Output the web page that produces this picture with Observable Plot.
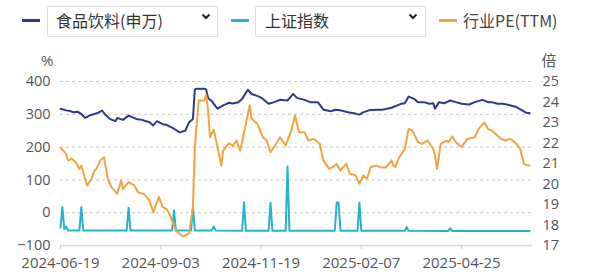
<!DOCTYPE html>
<html><head><meta charset="utf-8">
<script src="https://cdn.jsdelivr.net/npm/d3@7"></script>
<script src="https://cdn.jsdelivr.net/npm/@observablehq/plot@0.6"></script>
<style>
body{margin:0;background:#fff;font-family:"Open Sans","Noto Sans CJK SC",sans-serif;}
#wrap{position:relative;width:600px;height:279px;overflow:hidden;background:#fff}
#legend{position:relative;height:40px;width:600px}
.dash{position:absolute;top:19px;height:3px;width:18px}
.box{position:absolute;top:6px;height:29px;border:1px solid #ddd;border-radius:2px;background:#fff}
.lt{position:absolute;line-height:29px;font-size:16px;color:#333;white-space:nowrap;font-family:"Noto Sans CJK SC",sans-serif}
.chev{position:absolute;top:11px}
</style></head>
<body><div id="wrap">
<div id="legend"></div>
<div id="chart"></div>
</div>
<script>
// ---- data (trading-day index, value) ----
const xTickIdx = [0, 53, 106, 159, 212];
const xTickLabels = ["2024-06-19", "2024-09-03", "2024-11-19", "2025-02-07", "2025-04-25"];
const leftTicks = [-100, 0, 100, 200, 300, 400];
const rightTicks = [17, 18, 19, 20, 21, 22, 23, 24, 25];
const seriesNames = ["食品饮料(申万)", "上证指数", "行业PE(TTM)"];
const colors = ["#2b3a8e", "#27b3ca", "#f2a445"];

const foodIdx = [0,3,5,7,9,11,13,16,18,20,22,24,26,29,30,33,36,40,43,47,49,51,54,56,60,63,66,68,70,71,72,76,77,78,80,81,83,86,89,91,94,96,99,101,105,107,110,113,116,120,123,125,129,132,136,139,143,145,148,152,155,158,160,163,167,170,172,175,178,180,182,184,187,189,192,195,197,198,200,203,206,209,212,216,219,223,226,228,231,234,238,241,244,246,248];
const foodVal = [317,312,310,306,308,301,289,298,301,305,311,297,286,279,289,283,296,286,283,276,266,279,270,268,256,245,250,276,286,375,378,378,375,350,340,332,317,327,335,333,337,347,375,362,354,347,332,337,344,342,362,350,344,337,337,314,309,314,312,306,303,299,306,312,314,314,316,320,327,332,334,354,347,337,337,332,334,317,337,334,342,337,332,330,337,344,337,337,332,332,327,322,312,305,304];

const shIdx = [0,1,2,3,4,10,11,12,35,36,37,59,60,61,69,70,71,80,81,82,96,97,98,110,111,112,119,120,121,145,146,147,148,157,158,159,182,183,184,205,206,207,248];
const shVal = [-45,17,-50,-42,-54,-54,17,-54,-54,15,-54,-54,7,-54,-54,17,-54,-54,-42,-54,-55,32,-55,-55,30,-55,-55,141,-55,-55,31,31,-55,-55,30,-55,-55,-44,-55,-56,-47,-56,-56];

const peIdx = [0,3,4,6,8,10,11,14,16,18,19,21,23,25,27,30,32,33,36,39,41,44,47,49,52,54,56,58,61,63,65,68,70,71,73,76,77,78,79,81,83,85,86,89,91,93,95,98,100,101,104,107,109,111,114,116,119,122,124,126,129,131,134,137,139,142,144,146,148,151,153,156,158,160,162,164,167,169,172,175,176,177,179,182,184,186,189,191,194,197,198,199,201,204,205,207,209,212,215,219,221,224,226,228,231,233,235,238,241,243,245,247,248];
const peVal = [21.77,21.47,21.15,21.23,21.06,20.74,20.90,19.93,20.17,20.66,20.74,21.15,21.31,20.25,19.84,19.52,20.17,19.76,20.09,19.93,19.60,19.52,19.20,18.62,19.36,18.87,18.79,18.46,17.73,17.57,17.44,17.60,18.87,21.80,24.07,24.07,24.35,23.60,22.28,22.65,21.80,20.90,21.63,22.00,21.85,22.12,21.63,22.94,23.83,23.18,22.94,22.28,22.12,21.55,21.96,22.28,21.88,22.60,23.34,22.52,22.52,22.12,22.20,21.96,21.15,20.74,20.82,20.98,20.66,20.98,20.50,20.42,20.01,20.42,20.25,20.82,20.90,20.82,20.80,21.15,20.90,20.82,21.30,21.71,22.69,22.60,22.04,21.96,22.12,21.71,21.39,20.74,21.96,22.12,22.04,22.32,22.04,21.80,22.20,22.28,22.69,23.01,22.69,22.60,22.36,22.20,22.12,22.20,21.96,21.71,20.98,20.90,20.90];

// PE (right axis, 17..25) shares the pixel range of the left axis (-100..400)
const peToLeft = p => -100 + (p - 17) * 500 / 8;
const leftToPe = v => 17 + (v + 100) * 8 / 500;

const foodRows = foodIdx.map((i, k) => ({i, v: foodVal[k]}));
const shRows = shIdx.map((i, k) => ({i, v: shVal[k]}));
const peRows = peIdx.map((i, k) => ({i, v: peToLeft(peVal[k])}));

// ---- legend ----
const legend = document.getElementById("legend");
function chevron(left) {
  return `<svg class="chev" style="left:${left}px" width="10" height="12"><polyline points="1.5,3.5 5,7 8.5,3.5" fill="none" stroke="#222" stroke-width="2"/></svg>`;
}
legend.innerHTML = `
  <div class="dash" style="left:22px;background:${colors[0]}"></div>
  <div class="box" style="left:47px;width:169px"></div>
  <div class="lt" style="left:56px;top:6px">${seriesNames[0]}</div>
  ${chevron(201)}
  <div class="dash" style="left:231px;background:${colors[1]}"></div>
  <div class="box" style="left:255px;width:169px"></div>
  <div class="lt" style="left:265px;top:6px">${seriesNames[1]}</div>
  ${chevron(408)}
  <div class="dash" style="left:439px;background:${colors[2]}"></div>
  <div class="lt" style="left:463px;top:6px;color:#444">${seriesNames[2]}</div>
`;

// ---- chart ----
const chart = Plot.plot({
  width: 600,
  height: 239,
  marginTop: 41,
  marginBottom: 34,
  marginLeft: 60,
  marginRight: 68,
  style: {fontFamily: '"Open Sans","Noto Sans CJK SC",sans-serif', fontSize: "15px", color: "#555", background: "white", overflow: "visible"},
  x: {domain: [0, 249.5], axis: null},
  y: {domain: [-100, 400], axis: null},
  marks: [
    Plot.gridY(leftTicks.filter(d => d > -100), {stroke: "#c8c8c8", strokeOpacity: 1, strokeDasharray: "3,3"}),
    Plot.ruleY([-100], {stroke: "#d6d6d6", strokeWidth: 1.5}),
    Plot.axisX(xTickIdx, {label: null, tickFormat: d => xTickLabels[xTickIdx.indexOf(d)], tickSize: 4, tickPadding: 8, stroke: "#d0d0d0", fontSize: 15}),
    Plot.axisY(leftTicks, {anchor: "left", label: null, tickSize: 0, tickPadding: 10, fontSize: 14.5}),
    Plot.axisY(rightTicks.map(peToLeft), {anchor: "right", label: null, tickSize: 0, tickPadding: 10, fontSize: 14.5, tickFormat: v => String(Math.round(leftToPe(v)))}),
    Plot.text(["%"], {frameAnchor: "top-left", dx: -7, dy: -26, textAnchor: "end", fontSize: 15}),
    Plot.text(["倍"], {frameAnchor: "top-right", dx: 9, dy: -26, textAnchor: "start", fontSize: 15, fontFamily: '"Noto Sans CJK SC",sans-serif'}),
    Plot.line(foodRows, {x: "i", y: "v", stroke: colors[0], strokeWidth: 2, strokeLinejoin: "round"}),
    Plot.line(shRows, {x: "i", y: "v", stroke: colors[1], strokeWidth: 2, strokeLinejoin: "round"}),
    Plot.line(peRows, {x: "i", y: "v", stroke: colors[2], strokeWidth: 2, strokeLinejoin: "round"})
  ]
});
document.getElementById("chart").appendChild(chart);
</script>
</body></html>
